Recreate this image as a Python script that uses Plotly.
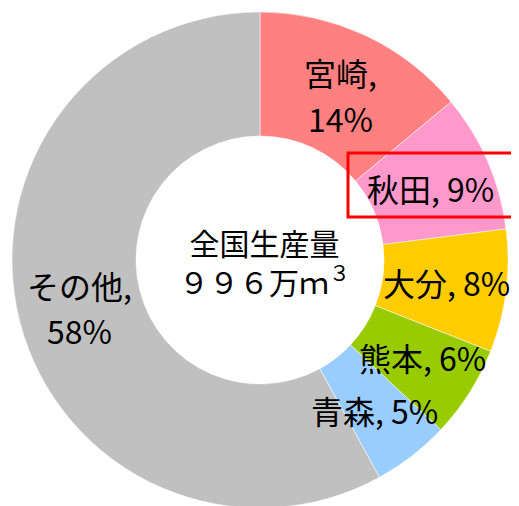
import plotly.graph_objects as go

# 生産量シェア（全国 996万m3）
labels = ["宮崎", "秋田", "大分", "熊本", "青森", "その他"]
values = [14, 9, 8, 6, 5, 58]
colors = ["#FF8080", "#FF99CC", "#FFCC00", "#99CC00", "#99CCFF", "#C0C0C0"]
total_label = ["全国生産量", "９９６万ｍ<sup>３</sup>"]

W, H = 519, 506
OFF = 8  # page body margin
FONT = "Noto Sans CJK JP"


def px(x, y):
    # page pixel position -> paper coords
    return (x - OFF) / W, 1 - (y - OFF) / H


fig = go.Figure(
    go.Pie(
        labels=labels,
        values=values,
        marker=dict(colors=colors, line=dict(color="white", width=0.5)),
        hole=0.5,
        sort=False,
        direction="clockwise",
        rotation=0,
        textinfo="none",
        hoverinfo="label+percent",
        domain=dict(x=[(12 - OFF) / W, (508 - OFF) / W],
                    y=[1 - (508 - OFF) / H, 1 - (12 - OFF) / H]),
    )
)

# label positions in page pixels (one entry per line of text)
label_pos = {
    "宮崎": [(340, 72), (340, 118)],
    "秋田": [(430, 188)],
    "大分": [(446, 282)],
    "熊本": [(422, 357)],
    "青森": [(374, 410)],
    "その他": [(80, 285), (80, 330)],
}

annotations = []
for lab, val in zip(labels, values):
    pos = label_pos[lab]
    if len(pos) == 2:
        lines = [f"{lab},", f"{val}%"]
    else:
        lines = [f"{lab}, {val}%"]
    for txt, (x, y) in zip(lines, pos):
        ax, ay = px(x, y)
        annotations.append(dict(
            x=ax, y=ay, xref="paper", yref="paper", text=txt, showarrow=False,
            xanchor="center", yanchor="middle",
            font=dict(family=FONT, size=32, color="black"),
        ))

# center text
cx, cy = px(264, 261)
annotations.append(dict(
    x=cx, y=cy, xref="paper", yref="paper", text="<br>".join(total_label),
    showarrow=False, xanchor="center", yanchor="middle",
    font=dict(family=FONT, size=30, color="black"),
))

x0, y0 = px(348, 153)
x1, y1 = px(517, 217)
fig.add_shape(type="rect", xref="paper", yref="paper", x0=x0, y0=y1, x1=x1, y1=y0,
              line=dict(color="#FF0000", width=3))

fig.update_layout(
    width=W, height=H,
    margin=dict(l=0, r=0, t=0, b=0),
    showlegend=False,
    paper_bgcolor="white",
    plot_bgcolor="white",
    annotations=annotations,
    font=dict(family=FONT),
)

fig.write_html("out.html")
